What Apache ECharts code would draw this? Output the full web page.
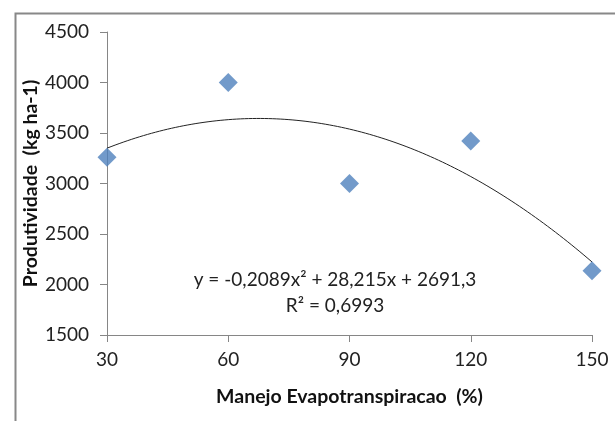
<!DOCTYPE html>
<html>
<head>
<meta charset="utf-8">
<script src="https://cdn.jsdelivr.net/npm/echarts@6/dist/echarts.min.js"></script>
<style>html,body{margin:0;padding:0;background:#fff}#c{width:615px;height:421px}</style>
</head>
<body>
<div id="c"></div>
<script>
// Data
const xValues = [30, 60, 90, 120, 150];
const yValues = [3260, 4000, 3000, 3420, 2135];
const xTicks = [30, 60, 90, 120, 150];
const yTicks = [1500, 2000, 2500, 3000, 3500, 4000, 4500];
// Polynomial trendline coefficients shown on chart
const coefA = -0.2089, coefB = 28.215, coefC = 2691.3;
const equationText = 'y = -0,2089x² + 28,215x + 2691,3';
const r2Text = 'R² = 0,6993';
const xTitle = 'Manejo Evapotranspiracao  (%)';
const yTitle = 'Produtividade  (kg ha-1)';

const points = xValues.map((x, i) => [x, yValues[i]]);
const trend = [];
for (let x = xValues[0]; x <= xValues[xValues.length - 1]; x += 1) {
  trend.push([x, coefA * x * x + coefB * x + coefC]);
}

const FONT = 'Lato';
const chart = echarts.init(document.getElementById('c'));
chart.setOption({
  animation: false,
  grid: { left: 107, right: 23, top: 32, bottom: 86 },
  xAxis: {
    type: 'value', min: 30, max: 150, interval: 30,
    axisLine: { show: true, lineStyle: { color: '#868686', width: 1 } },
    axisTick: { show: true, inside: false, length: 7, lineStyle: { color: '#868686' } },
    splitLine: { show: false },
    axisLabel: { margin: 15, color: '#222', fontFamily: FONT, fontSize: 19, formatter: v => String(v) },
    name: xTitle, nameLocation: 'middle', nameGap: 52,
    nameTextStyle: { fontFamily: FONT, fontWeight: 'bold', fontSize: 19.5, color: '#111' }
  },
  yAxis: {
    type: 'value', min: 1500, max: 4500, interval: 500,
    axisLine: { show: true, lineStyle: { color: '#868686', width: 1 } },
    axisTick: { show: true, inside: false, length: 7, lineStyle: { color: '#868686' } },
    splitLine: { show: false },
    axisLabel: { margin: 18, color: '#222', fontFamily: FONT, fontSize: 19, formatter: v => String(v) },
    name: yTitle, nameLocation: 'middle', nameGap: 66, nameMoveOverlap: false,
    nameTextStyle: { fontFamily: FONT, fontWeight: 'bold', fontSize: 19.5, color: '#111' }
  },
  series: [
    {
      type: 'line', data: trend, showSymbol: false, smooth: false,
      lineStyle: { color: '#222', width: 1 }, z: 2
    },
    {
      type: 'scatter', data: points, symbol: 'diamond', symbolSize: [19, 19],
      itemStyle: { color: '#4f81bd' }, z: 3
    }
  ],
  graphic: [
    {
      type: 'rect', left: 13, top: 11, silent: true,
      shape: { width: 700, height: 500 },
      style: { fill: 'none', stroke: '#888', lineWidth: 2 }
    },
    {
      type: 'text', x: 335, y: 280,
      style: { text: equationText, font: '19px Lato', fill: '#222', textAlign: 'center', textVerticalAlign: 'middle' }
    },
    {
      type: 'text', x: 335, y: 306,
      style: { text: r2Text, font: '19px Lato', fill: '#222', textAlign: 'center', textVerticalAlign: 'middle' }
    }
  ]
});
</script>
</body>
</html>
